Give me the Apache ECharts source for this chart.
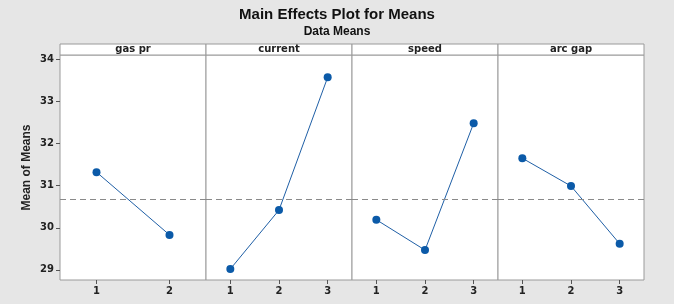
<!DOCTYPE html>
<html>
<head>
<meta charset="utf-8">
<script src="https://cdn.jsdelivr.net/npm/echarts@6/dist/echarts.min.js"></script>
<style>
    html, body {margin: 0; padding: 0; background: #e6e6e6;}
    #main {width: 674px; height: 304px;}
</style>
</head>
<body>
<div id="main"></div>
<script>
'use strict';

// data
let factors = ['gas pr', 'current', 'speed', 'arc gap'];
let levels = [[1, 2], [1, 2, 3], [1, 2, 3], [1, 2, 3]];
let gasPr = [31.32, 29.83];
let current = [29.02, 30.42, 33.57];
let speed = [30.19, 29.47, 32.48];
let arcGap = [31.65, 30.99, 29.62];
let grandMean = 30.68;
let yTicks = [29, 30, 31, 32, 33, 34];

let means = [gasPr, current, speed, arcGap];

// layout
let left0 = 60, panelW = 146, top0 = 55, plotH = 225, headH = 11;

let chart = echarts.init(document.getElementById('main'));

let grid = [], xAxis = [], yAxis = [], series = [], graphic = [];

factors.forEach(function (name, i) {
    let n = levels[i].length;
    grid.push({
        left: left0 + i * panelW,
        top: top0,
        width: panelW,
        height: plotH,
        show: true,
        backgroundColor: '#fff',
        borderColor: '#9a9a9a',
        borderWidth: 1
    });
    xAxis.push({
        type: 'value',
        gridIndex: i,
        min: 0.5,
        max: n + 0.5,
        interval: 1,
        axisLine: {show: false},
        axisTick: {
            show: true, length: 4, lineStyle: {color: '#555'},
            customValues: levels[i]
        },
        axisLabel: {
            fontFamily: 'DejaVu Sans', fontWeight: 'bold', fontSize: 10, color: '#222',
            margin: 6, customValues: levels[i]
        },
        splitLine: {show: false}
    });
    yAxis.push({
        type: 'value',
        gridIndex: i,
        min: 28.76,
        max: 34.1,
        show: i === 0,
        name: i === 0 ? 'Mean of Means' : '',
        nameLocation: 'middle',
        nameGap: 27,
        nameTextStyle: {fontFamily: 'Liberation Sans', fontWeight: 'bold', fontSize: 12, color: '#222'},
        axisLine: {show: false},
        axisTick: {
            show: true, length: 4, lineStyle: {color: '#555'},
            customValues: yTicks
        },
        axisLabel: {
            fontFamily: 'DejaVu Sans', fontWeight: 'bold', fontSize: 10, color: '#222',
            margin: 6, customValues: yTicks
        },
        splitLine: {show: false}
    });
    series.push({
        type: 'line',
        xAxisIndex: i,
        yAxisIndex: i,
        data: levels[i].map(function (lv, k) {
            return [lv, means[i][k]];
        }),
        symbol: 'circle',
        symbolSize: 8,
        itemStyle: {color: '#0b5aa8'},
        lineStyle: {color: '#1f5fa6', width: 1},
        silent: true,
        animation: false,
        markLine: {
            silent: true,
            symbol: 'none',
            label: {show: false},
            lineStyle: {color: '#8a8a8a', type: [6, 4], width: 1},
            data: [{yAxis: grandMean}]
        }
    });
    // header strip
    graphic.push({
        type: 'rect',
        shape: {x: left0 + i * panelW, y: top0 - headH, width: panelW, height: headH},
        style: {fill: '#fff', stroke: '#9a9a9a', lineWidth: 1}
    });
    graphic.push({
        type: 'text',
        x: left0 + i * panelW + panelW / 2,
        y: top0 - headH / 2,
        style: {
            text: name, align: 'center', verticalAlign: 'middle',
            fontFamily: 'DejaVu Sans', fontSize: 10, fontWeight: 'bold', fill: '#222'
        }
    });
});

let option = {
    backgroundColor: '#e6e6e6',
    animation: false,
    title: [{
        text: 'Main Effects Plot for Means',
        left: 'center',
        top: 2,
        textStyle: {fontFamily: 'Liberation Sans', fontWeight: 'bold', fontSize: 15, color: '#111'}
    }, {
        text: 'Data Means',
        left: 'center',
        top: 21,
        textStyle: {fontFamily: 'Liberation Sans', fontWeight: 'bold', fontSize: 12, color: '#111'}
    }],
    grid: grid,
    xAxis: xAxis,
    yAxis: yAxis,
    series: series,
    graphic: graphic
};

chart.setOption(option);
</script>
</body>
</html>
